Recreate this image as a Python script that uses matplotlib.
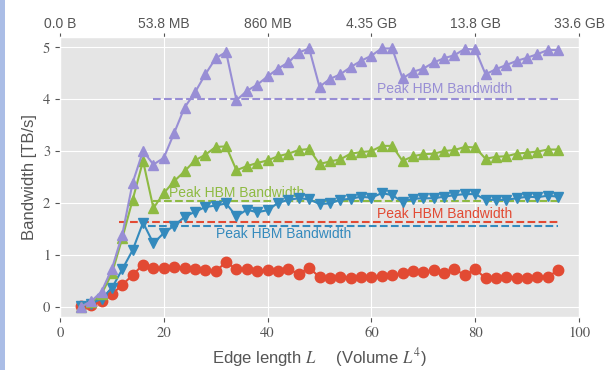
import matplotlib
matplotlib.use("Agg")
import matplotlib.pyplot as plt
from matplotlib.patches import Rectangle

plt.style.use("ggplot")
plt.rcParams["font.family"] = ["Liberation Sans", "DejaVu Sans"]
plt.rcParams["mathtext.fontset"] = "stix"

# Lattice edge length L (volume L^4)
edge = list(range(4, 97, 2))

bw_red = [0.01, 0.03, 0.11, 0.24, 0.42, 0.61, 0.81, 0.74, 0.74, 0.77, 0.74, 0.72,
          0.70, 0.68, 0.86, 0.72, 0.72, 0.69, 0.70, 0.69, 0.72, 0.63, 0.75, 0.57,
          0.55, 0.58, 0.56, 0.57, 0.58, 0.59, 0.61, 0.64, 0.69, 0.67, 0.70, 0.64,
          0.72, 0.61, 0.72, 0.55, 0.55, 0.58, 0.56, 0.56, 0.57, 0.58, 0.70]
bw_blue = [0.01, 0.06, 0.15, 0.36, 0.72, 1.09, 1.62, 1.22, 1.42, 1.56, 1.73, 1.83,
           1.92, 1.95, 1.99, 1.74, 1.87, 1.82, 1.86, 2.00, 2.06, 2.09, 2.07, 1.98,
           1.99, 2.06, 2.08, 2.12, 2.10, 2.19, 2.15, 2.02, 2.08, 2.09, 2.09, 2.12,
           2.15, 2.17, 2.17, 2.06, 2.06, 2.06, 2.09, 2.12, 2.11, 2.14, 2.12]
bw_green = [0.0, 0.08, 0.24, 0.64, 1.32, 2.06, 2.81, 1.90, 2.19, 2.42, 2.61, 2.82,
            2.93, 3.08, 3.09, 2.63, 2.71, 2.77, 2.82, 2.90, 2.95, 3.02, 3.04, 2.75,
            2.80, 2.84, 2.95, 2.98, 3.00, 3.10, 3.10, 2.81, 2.90, 2.94, 2.95, 3.00,
            3.02, 3.08, 3.07, 2.85, 2.89, 2.90, 2.95, 2.97, 2.99, 3.03, 3.03]
bw_purple = [0.0, 0.10, 0.29, 0.73, 1.39, 2.39, 3.00, 2.74, 2.87, 3.35, 3.84, 4.13,
             4.48, 4.79, 4.91, 3.98, 4.16, 4.28, 4.44, 4.59, 4.71, 4.90, 4.98, 4.24,
             4.39, 4.48, 4.62, 4.74, 4.84, 4.98, 4.98, 4.40, 4.53, 4.59, 4.71, 4.79,
             4.85, 4.97, 4.96, 4.48, 4.58, 4.66, 4.74, 4.80, 4.87, 4.95, 4.95]

# Peak HBM bandwidth of each device
peak_bw = [1.64, 1.56, 2.04, 4.0]
peak_start = [11.3, 17.0, 18.0, 18.0]
peak_end = 96
peak_text = "Peak HBM Bandwidth"
peak_text_pos = [(61.1, 1.71), (30.1, 1.32), (21.0, 2.11), (61.0, 4.12)]

# Memory footprint of the lattice at the top-axis positions
top_ticks = [0, 20, 40, 60, 80, 100]
top_labels = ["0.0 B", "53.8 MB", "860 MB", "4.35 GB", "13.8 GB", "33.6 GB"]

colors = ["#E24A33", "#348ABD", "#8EBA42", "#988ED5"]
series = [bw_red, bw_blue, bw_green, bw_purple]
markers = ["o", "v", "^", "^"]
msizes = [7.5, 7.5, 7.5, 7.5]

fig = plt.figure(figsize=(6.1, 3.7), dpi=100)
fig.patches.append(Rectangle((0, 0), 5 / 610, 1, transform=fig.transFigure,
                             facecolor="#AABDE6", edgecolor="none", zorder=0))
ax = fig.add_axes([60 / 610, 1 - 317 / 370, 519 / 610, 280 / 370])

for c, pb, ps, (tx, ty) in zip(colors, peak_bw, peak_start, peak_text_pos):
    ax.plot([ps, peak_end], [pb, pb], ls="--", color=c, lw=1.5, zorder=2)
    ax.text(tx, ty, peak_text, color=c, fontsize=10, va="baseline", ha="left",
            zorder=3)

for c, vals, m, ms in zip(colors, series, markers, msizes):
    ax.plot(edge, vals, marker=m, ms=ms, color=c, lw=1.5, zorder=4)

ax.set_xlim(0, 100)
ax.set_ylim(-0.2, 5.2)
ax.set_xticks([0, 20, 40, 60, 80, 100])
ax.set_yticks([0, 1, 2, 3, 4, 5])
for lab in ax.get_xticklabels() + ax.get_yticklabels():
    lab.set_family("STIXGeneral")
    lab.set_fontsize(10.5)
ax.set_ylabel("Bandwidth [TB/s]", fontsize=12, color="#555555")
ax.set_xlabel(r"Edge length $L$ $\quad$ (Volume $L^4$)", fontsize=12,
              color="#555555")

top = ax.secondary_xaxis("top")
top.set_xticks(top_ticks)
top.set_xticklabels(top_labels, fontsize=10, color="#555555")
top.tick_params(direction="out", color="#555555", length=3, pad=1)
top.spines["top"].set_visible(False)

fig.savefig("out.png", dpi=100, facecolor="white")
